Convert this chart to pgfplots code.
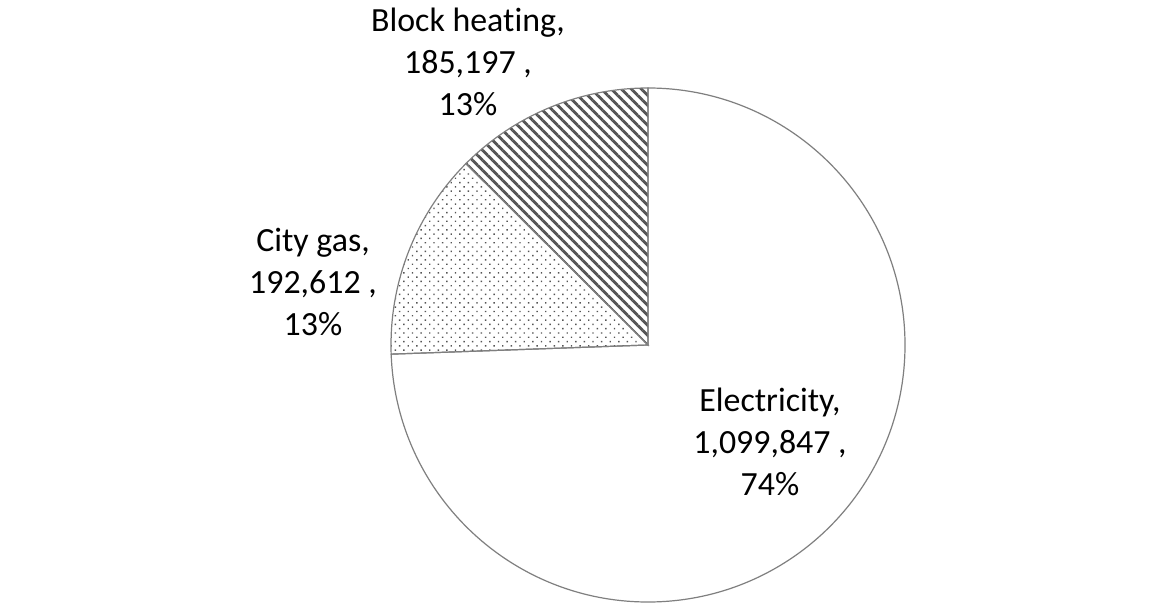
\documentclass[border=0pt]{standalone}
\usepackage{pgfplots}
\pgfplotsset{compat=1.18}
\usetikzlibrary{patterns.meta}
\usepackage{fontspec}
\setmainfont[Ligatures=NoCommon]{Carlito}
\definecolor{edgegray}{HTML}{7F7F7F}
\definecolor{hatchgray}{HTML}{555555}
\begin{document}
\begin{tikzpicture}
% values in thousands
\def\vE{1099.847}
\def\vC{192.612}
\def\vB{185.197}
\pgfmathsetmacro{\tot}{\vE+\vC+\vB}
\pgfmathsetmacro{\fE}{\vE/\tot}
\pgfmathsetmacro{\fC}{\vC/\tot}
\pgfmathsetmacro{\aE}{90-360*\fE}
\pgfmathsetmacro{\aC}{\aE-360*\fC}
\begin{axis}[scale only axis, width=1159bp, height=608bp,
  xmin=0, xmax=1159, ymin=0, ymax=608, axis lines=none, clip=false]
\path (axis cs:0,0) rectangle (axis cs:1159,608);
% Electricity
\filldraw[fill=white, draw=edgegray, line width=1.2bp]
  (axis cs:648,263) -- ++(90:257bp) arc[start angle=90, end angle=\aE, radius=257bp] -- cycle;
% City gas
\draw[pattern={Dots[distance=6.1pt, angle=45, radius=1.0pt]}, pattern color=hatchgray, draw=edgegray, line width=1.2bp]
  (axis cs:648,263) -- ++(\aE:257bp) arc[start angle=\aE, end angle=\aC, radius=257bp] -- cycle;
% Block heating
\draw[pattern={Lines[angle=-45, distance=7.1pt, line width=2.9pt]}, pattern color=hatchgray, draw=edgegray, line width=1.2bp]
  (axis cs:648,263) -- ++(\aC:257bp) arc[start angle=\aC, end angle=-270, radius=257bp] -- cycle;
% labels
\node[align=center, font=\fontsize{34}{42}\selectfont] at (axis cs:468,546) {Block heating,\\185,197 ,\\13\%};
\node[align=center, font=\fontsize{34}{42}\selectfont] at (axis cs:313,326) {City gas,\\192,612 ,\\13\%};
\node[align=center, font=\fontsize{34}{42}\selectfont] at (axis cs:770,166) {Electricity,\\1,099,847 ,\\74\%};
\end{axis}
\end{tikzpicture}
\end{document}
